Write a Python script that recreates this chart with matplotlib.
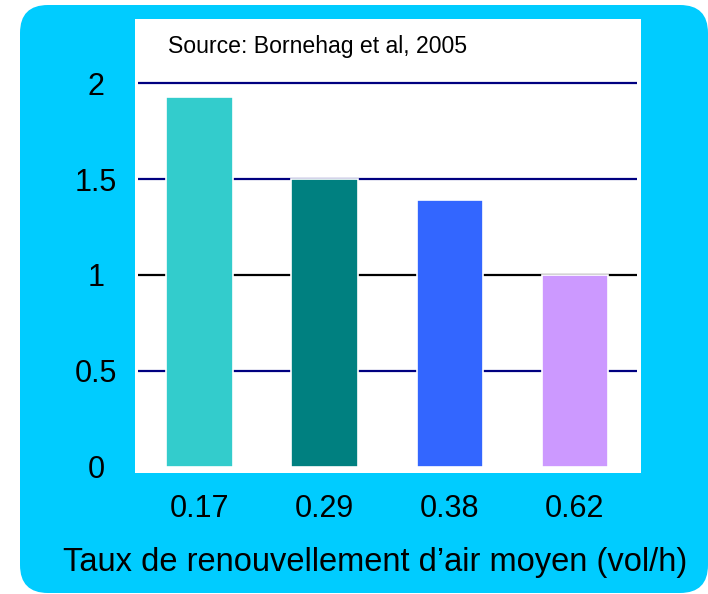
import matplotlib
matplotlib.use("Agg")
import matplotlib.pyplot as plt
from matplotlib.patches import FancyBboxPatch

categories = ["0.17", "0.29", "0.38", "0.62"]
values = [1.93, 1.50, 1.39, 1.00]
bar_colors = ["#33CCCC", "#008080", "#3366FF", "#CC99FF"]
yticks = [0, 0.5, 1, 1.5, 2]
ytick_labels = ["0", "0.5", "1", "1.5", "2"]
grid_colors = {0.5: "#000080", 1: "#000000", 1.5: "#000080", 2: "#000080"}
xlabel = "Taux de renouvellement d\u2019air moyen (vol/h)"
source = "Source: Bornehag et al, 2005"

plt.rcParams['font.family'] = ['Liberation Sans', 'DejaVu Sans']

fig = plt.figure(figsize=(7.08, 5.94), dpi=100)
fig.patch.set_facecolor("white")

bg = FancyBboxPatch((0.20, 0.01), 6.88, 5.88,
                    boxstyle="round,pad=0,rounding_size=0.28",
                    transform=fig.dpi_scale_trans, facecolor="#00CCFF",
                    edgecolor="none", zorder=-5)
fig.patches.append(bg)

ax = fig.add_axes([135/708, 1-473/594, 506/708, 454/594])
ax.set_zorder(1)
ax.set_facecolor("white")
for s in ax.spines.values():
    s.set_visible(False)

x = list(range(len(categories)))
ax.set_xlim(-0.514, 3.528)
ax.set_ylim(-0.033, 2.335)

for yv in yticks[1:]:
    ax.hlines(yv, -0.49, 3.50, color=grid_colors[yv], lw=1.6, zorder=1)

ax.bar(x, values, width=0.53, color=bar_colors, edgecolor="white",
       linewidth=1.2, zorder=2)

ax.set_xticks(x)
ax.set_xticklabels(categories, fontsize=22)
ax.set_yticks(yticks)
ax.set_yticklabels(ytick_labels, fontsize=22, ha="center")
ax.tick_params(axis="x", length=0, pad=15)
ax.tick_params(axis="y", length=0, pad=28)

fig.text(375/708, 1-563/594, xlabel, fontsize=23.5, ha="center", va="center", zorder=3)
fig.text(168/708, 1-53/594, source, fontsize=16.6, ha="left", va="baseline", zorder=3)

fig.savefig("out.png", dpi=100, facecolor="white")
